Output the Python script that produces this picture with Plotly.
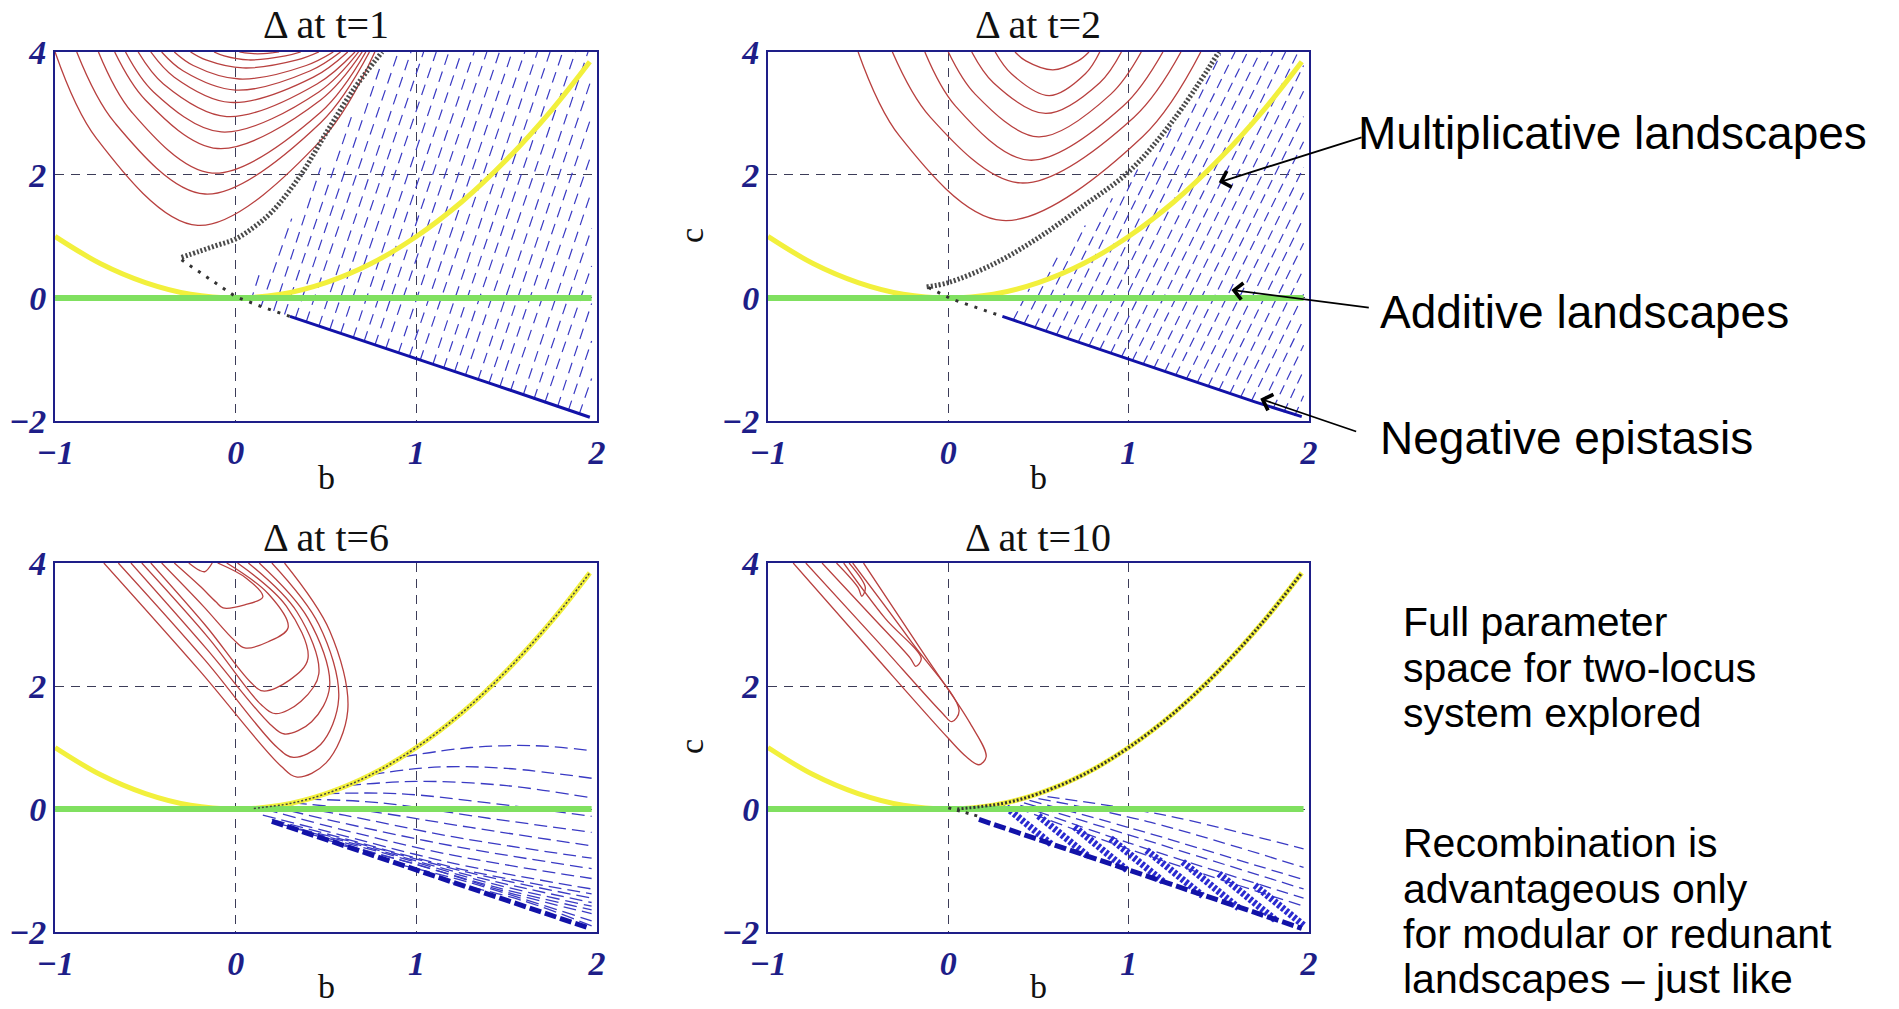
import plotly.graph_objects as go

# ---------------- data ----------------
TITLES = ["Δ at t=1", "Δ at t=2", "Δ at t=6", "Δ at t=10"]
B_TICKS = [-1, 0, 1, 2]
B_TICK_LABELS = ["−1", "0", "1", "2"]
C_TICKS = [-2, 0, 2, 4]
C_TICK_LABELS = ["−2", "0", "2", "4"]

# multiplicative landscapes (yellow) and additive landscapes (green)
YELLOW_B = [-1.0, -0.75, -0.5, -0.25, 0.0, 0.25, 0.5, 0.75, 1.0, 1.25, 1.5, 1.75, 1.96]
YELLOW_C = [1.0, 0.56, 0.25, 0.06, 0.0, 0.06, 0.25, 0.56, 1.0, 1.56, 2.25, 3.06, 3.84]
GREEN_B = [-1.0, 1.97]
GREEN_C = [0.0, 0.0]

# ---- panel 1 (t=1) ----
P1_RED_B = [
    [-1.00, -0.77, -0.21, 0.48, 0.77],
    [-0.88, -0.67, -0.17, 0.47, 0.74],
    [-0.76, -0.575, -0.13, 0.47, 0.72],
    [-0.67, -0.50, -0.10, 0.47, 0.70],
    [-0.61, -0.455, -0.08, 0.46, 0.68],
    [-0.54, -0.40, -0.05, 0.45, 0.66],
    [-0.47, -0.34, -0.03, 0.43, 0.62],
    [-0.41, -0.29, 0.00, 0.41, 0.58],
    [-0.34, -0.235, 0.02, 0.39, 0.54],
    [-0.25, -0.165, 0.04, 0.34, 0.46],
    [-0.12, -0.064, 0.07, 0.275, 0.36],
    [0.02, 0.05, 0.12, 0.20, 0.24],
]
P1_RED_C = [
    [4, 2.59, 1.18, 2.59, 4],
    [4, 2.85, 1.69, 2.85, 4],
    [4, 3.02, 2.03, 3.02, 4],
    [4, 3.22, 2.43, 3.22, 4],
    [4, 3.35, 2.70, 3.35, 4],
    [4, 3.48, 2.95, 3.48, 4],
    [4, 3.59, 3.18, 3.59, 4],
    [4, 3.69, 3.38, 3.69, 4],
    [4, 3.78, 3.56, 3.78, 4],
    [4, 3.87, 3.74, 3.87, 4],
    [4, 3.935, 3.87, 3.935, 4],
    [4, 3.985, 3.97, 3.985, 4],
]
P1_BLUE_B0 = [0.08, 0.14, 0.21, 0.27, 0.33, 0.39, 0.46, 0.52, 0.58, 0.65, 0.71, 0.77, 0.83, 0.90, 0.96,
              1.02, 1.09, 1.15, 1.21, 1.27, 1.34, 1.40, 1.46, 1.52, 1.59, 1.65, 1.71, 1.78, 1.84, 1.90]
P1_BLUE_C0 = [-0.08, -0.14, -0.21, -0.27, -0.33, -0.39, -0.46, -0.52, -0.58, -0.65, -0.71, -0.77, -0.83, -0.90, -0.96,
              -1.02, -1.09, -1.15, -1.21, -1.27, -1.34, -1.40, -1.46, -1.52, -1.59, -1.65, -1.71, -1.78, -1.84, -1.90]
P1_BLUE_B1 = [0.14, 0.31, 0.47, 0.64, 0.80, 0.90, 0.97, 1.04, 1.11, 1.18, 1.25, 1.32, 1.39, 1.46, 1.53,
              1.60, 1.67, 1.74, 1.81, 1.88, 1.95, 1.97, 1.97, 1.97, 1.97, 1.97, 1.97, 1.97, 1.97, 1.97]
P1_BLUE_C1 = [0.47, 1.29, 2.12, 2.94, 3.76, 4, 4, 4, 4, 4, 4, 4, 4, 4, 4,
              4, 4, 4, 4, 4, 4, 3.57, 2.96, 2.35, 1.74, 1.13, 0.52, -0.09, -0.70, -1.31]
P1_DOT_B = [-0.30, -0.20, -0.10, 0.00, 0.10, 0.20, 0.36, 0.50, 0.65, 0.81]
P1_DOT_C = [0.66, 0.76, 0.86, 0.96, 1.15, 1.40, 2.00, 2.68, 3.38, 4.00]
P1_SPARSE_B = [-0.30, -0.15, 0.00, 0.15, 0.30]
P1_SPARSE_C = [0.62, 0.32, 0.02, -0.15, -0.30]
P1_EDGE_B = [0.30, 0.70, 1.00, 1.40, 1.70, 1.96]
P1_EDGE_C = [-0.30, -0.69, -0.99, -1.38, -1.68, -1.94]

# ---- panel 2 (t=2) ----
P2_RED_B = [
    [-0.50, -0.27, 0.30, 1.08, 1.40],
    [-0.31, -0.10, 0.40, 1.03, 1.29],
    [-0.13, 0.04, 0.45, 0.97, 1.19],
    [0.00, 0.15, 0.50, 0.90, 1.07],
    [0.13, 0.25, 0.54, 0.84, 0.96],
    [0.26, 0.35, 0.56, 0.76, 0.84],
    [0.37, 0.43, 0.58, 0.72, 0.78],
]
P2_RED_C = [
    [4, 2.63, 1.26, 2.63, 4],
    [4, 2.94, 1.87, 2.94, 4],
    [4, 3.12, 2.24, 3.12, 4],
    [4, 3.31, 2.62, 3.31, 4],
    [4, 3.50, 3.00, 3.50, 4],
    [4, 3.645, 3.29, 3.645, 4],
    [4, 3.855, 3.71, 3.855, 4],
]
P2_BLUE_B0 = [0.36, 0.42, 0.48, 0.54, 0.60, 0.66, 0.72, 0.78, 0.84, 0.90, 0.96, 1.02, 1.08, 1.14,
              1.20, 1.26, 1.32, 1.38, 1.44, 1.50, 1.56, 1.62, 1.68, 1.74, 1.80, 1.86, 1.92]
P2_BLUE_C0 = [-0.36, -0.42, -0.48, -0.54, -0.60, -0.66, -0.72, -0.78, -0.84, -0.90, -0.96, -1.02, -1.08, -1.14,
              -1.20, -1.26, -1.32, -1.38, -1.44, -1.50, -1.56, -1.62, -1.68, -1.74, -1.80, -1.86, -1.92]
P2_BLUE_B1 = [0.45, 0.61, 0.76, 0.91, 1.05, 1.24, 1.51, 1.59, 1.66, 1.73, 1.80, 1.87, 1.94, 1.97,
              1.97, 1.97, 1.97, 1.97, 1.97, 1.97, 1.97, 1.97, 1.97, 1.97, 1.97, 1.97, 1.97]
P2_BLUE_C1 = [0.15, 0.69, 1.18, 1.62, 2.09, 2.78, 3.96, 4, 4, 4, 4, 4, 4, 3.78,
              3.36, 2.95, 2.54, 2.12, 1.71, 1.30, 0.89, 0.47, 0.06, -0.35, -0.77, -1.18, -1.59]
P2_DOT_B = [-0.12, 0.00, 0.25, 0.50, 0.75, 1.00, 1.25, 1.50]
P2_DOT_C = [0.18, 0.25, 0.55, 0.98, 1.50, 2.05, 2.90, 4.00]
P2_SPARSE_B = [-0.11, -0.05, 0.02, 0.15, 0.30]
P2_SPARSE_C = [0.17, 0.08, -0.02, -0.15, -0.30]
P2_EDGE_B = [0.30, 0.70, 1.00, 1.40, 1.70, 1.96]
P2_EDGE_C = [-0.30, -0.70, -0.99, -1.39, -1.69, -1.93]

# ---- panel 3 (t=6) ----
P3_RED_B = [
    [-0.73, -0.20, 0.25, 0.34, 0.50, 0.62, 0.52, 0.27],
    [-0.65, -0.17, 0.23, 0.32, 0.47, 0.57, 0.46, 0.20],
    [-0.58, -0.16, 0.19, 0.27, 0.42, 0.52, 0.40, 0.13],
    [-0.52, -0.15, 0.14, 0.22, 0.36, 0.46, 0.34, 0.07],
    [-0.47, -0.16, 0.08, 0.15, 0.30, 0.40, 0.28, 0.01],
    [-0.41, -0.18, -0.01, 0.05, 0.18, 0.29, 0.18, -0.05],
    [-0.34, -0.20, -0.11, -0.07, 0.05, 0.15, 0.06, -0.10],
    [-0.26, -0.20, -0.17, -0.13],
]
P3_RED_C = [
    [4, 2.25, 0.70, 0.52, 0.75, 1.60, 2.90, 4],
    [4, 2.42, 1.00, 0.84, 1.05, 1.80, 3.00, 4],
    [4, 2.60, 1.38, 1.22, 1.42, 2.00, 3.10, 4],
    [4, 2.78, 1.70, 1.55, 1.75, 2.20, 3.20, 4],
    [4, 2.96, 2.07, 1.92, 2.10, 2.45, 3.30, 4],
    [4, 3.30, 2.75, 2.62, 2.72, 2.95, 3.50, 4],
    [4, 3.63, 3.37, 3.27, 3.32, 3.45, 3.75, 4],
    [4, 3.88, 3.86, 4],
]
P3_BLUE_B = [
    [0.93, 1.30, 1.65, 1.97],
    [0.75, 1.10, 1.50, 1.97],
    [0.62, 1.00, 1.50, 1.97],
    [0.50, 0.90, 1.40, 1.97],
    [0.40, 0.80, 1.40, 1.97],
    [0.32, 0.70, 1.30, 1.97],
    [0.26, 0.60, 1.20, 1.97],
    [0.20, 0.55, 1.20, 1.97],
    [0.16, 0.50, 1.20, 1.97],
    [0.15, 0.50, 1.20, 1.97],
    [0.20, 0.55, 1.25, 1.97],
    [0.25, 0.60, 1.30, 1.97],
    [0.32, 0.70, 1.35, 1.97],
    [0.40, 0.80, 1.40, 1.97],
    [0.50, 0.90, 1.45, 1.97],
    [0.60, 1.00, 1.50, 1.97],
    [0.90, 1.30, 1.97],
    [1.20, 1.60, 1.97],
]
P3_BLUE_C = [
    [0.85, 1.00, 1.03, 0.95],
    [0.56, 0.68, 0.66, 0.50],
    [0.38, 0.45, 0.38, 0.18],
    [0.25, 0.25, 0.10, -0.12],
    [0.16, 0.10, -0.15, -0.38],
    [0.10, -0.02, -0.30, -0.60],
    [0.07, -0.10, -0.45, -0.80],
    [0.04, -0.20, -0.60, -0.97],
    [0.00, -0.27, -0.75, -1.13],
    [-0.10, -0.36, -0.88, -1.30],
    [-0.17, -0.44, -0.98, -1.38],
    [-0.25, -0.50, -1.04, -1.45],
    [-0.31, -0.60, -1.12, -1.52],
    [-0.40, -0.70, -1.20, -1.58],
    [-0.50, -0.82, -1.28, -1.64],
    [-0.60, -0.90, -1.35, -1.70],
    [-0.90, -1.20, -1.82],
    [-1.20, -1.50, -1.90],
]
P3_DOT_B = [0.10, 0.30, 0.50, 0.75, 1.00, 1.25, 1.50, 1.75, 1.96]
P3_DOT_C = [0.01, 0.09, 0.25, 0.56, 1.00, 1.56, 2.25, 3.06, 3.84]
P3_EDGE_B = [0.20, 0.60, 1.00, 1.40, 1.96]
P3_EDGE_C = [-0.20, -0.60, -0.99, -1.39, -1.94]

# ---- panel 4 (t=10) ----
P4_RED_B = [
    [-0.86, -0.41, 0.00, 0.10, 0.17, 0.21, 0.12, -0.13, -0.47],
    [-0.79, -0.40, -0.03, 0.02, 0.06, -0.20, -0.53],
    [-0.70, -0.43, -0.21, -0.18, -0.15, -0.35, -0.58],
    [-0.62, -0.50, -0.48, -0.46, -0.55],
]
P4_RED_C = [
    [4, 2.50, 1.15, 0.85, 0.72, 0.85, 1.40, 2.50, 4],
    [4, 2.75, 1.55, 1.42, 1.60, 2.70, 4],
    [4, 3.15, 2.45, 2.32, 2.45, 3.10, 4],
    [4, 3.60, 3.46, 3.60, 4],
]
P4_FAN_B = [[0.55, 1.20, 1.97], [0.50, 1.10, 1.97], [0.45, 1.00, 1.97],
            [0.42, 1.00, 1.97], [0.40, 1.00, 1.97], [0.38, 1.00, 1.97]]
P4_FAN_C = [[0.20, -0.10, -0.65], [0.17, -0.20, -0.95], [0.14, -0.30, -1.15],
            [0.10, -0.42, -1.30], [0.06, -0.55, -1.45], [0.02, -0.65, -1.58]]
P4_BAND_B0 = [0.30, 0.50, 0.70, 0.90, 1.10, 1.30, 1.50, 1.70]
P4_BAND_C0 = [0.08, -0.11, -0.29, -0.48, -0.67, -0.86, -1.05, -1.24]
P4_BAND_B1 = [0.57, 0.78, 0.99, 1.20, 1.41, 1.61, 1.82, 1.97]
P4_BAND_C1 = [-0.57, -0.78, -0.99, -1.20, -1.41, -1.61, -1.82, -1.89]
P4_DOT_B = [0.05, 0.30, 0.50, 0.75, 1.00, 1.25, 1.50, 1.75, 1.96]
P4_DOT_C = [0.00, 0.09, 0.25, 0.56, 1.00, 1.56, 2.25, 3.06, 3.84]
P4_SPARSE_B = [0.00, 0.08, 0.17]
P4_SPARSE_C = [0.02, -0.04, -0.12]
P4_EDGE_B = [0.17, 0.60, 1.00, 1.40, 1.96]
P4_EDGE_C = [-0.17, -0.60, -0.99, -1.39, -1.94]

# side text
SIDE_LABELS = ["Multiplicative landscapes", "Additive landscapes", "Negative epistasis"]
PARA1 = ["Full parameter", "space for two-locus", "system explored"]
PARA2 = ["Recombination is", "advantageous only", "for modular or redunant", "landscapes – just like"]
# arrows in panel 2 data units: tip (b, c) and tail (b, c)
ARROW_TIP_B = [1.50, 1.57, 1.73]
ARROW_TIP_C = [1.88, 0.13, -1.64]
ARROW_TAIL_B = [2.30, 2.34, 2.27]
ARROW_TAIL_C = [2.62, -0.16, -2.18]

# ---------------- styling ----------------
RED = "#b8403f"
BLUE = "#3a3ac4"
DARKBLUE = "#1212a8"
YELLOW = "#f2f03c"
GREEN = "#80e060"
NAVY = "#1e1e88"
SERIF = "Liberation Serif"
SANS = "Liberation Sans"
W, H = 1899, 1009

XD = [[0.0290, 0.3144], [0.4044, 0.6893], [0.0290, 0.3144], [0.4044, 0.6893]]
YD = [[0.5828, 0.9485], [0.5828, 0.9485], [0.0763, 0.4420], [0.0763, 0.4420]]


def join(b_lists, c_lists):
    xs, ys = [], []
    for bl, cl in zip(b_lists, c_lists):
        xs += list(bl) + [None]
        ys += list(cl) + [None]
    return xs, ys


def join_segments(b0, c0, b1, c1):
    xs, ys = [], []
    for p, q, r, s in zip(b0, c0, b1, c1):
        xs += [p, r, None]
        ys += [q, s, None]
    return xs, ys


fig = go.Figure()


def add(i, xs, ys, color, width, dash="solid", shape="linear"):
    ax = "" if i == 1 else str(i)
    fig.add_trace(go.Scatter(
        x=xs, y=ys, mode="lines", xaxis="x" + ax, yaxis="y" + ax,
        line=dict(color=color, width=width, dash=dash, shape=shape),
        connectgaps=False, showlegend=False, hoverinfo="skip"))


# panel 1
add(1, *join_segments(P1_BLUE_B0, P1_BLUE_C0, P1_BLUE_B1, P1_BLUE_C1), BLUE, 1.2, "11px,7px")
add(1, *join(P1_RED_B, P1_RED_C), RED, 1.3, shape="spline")
add(1, YELLOW_B, YELLOW_C, YELLOW, 5, shape="spline")
add(1, GREEN_B, GREEN_C, GREEN, 6)
add(1, P1_DOT_B, P1_DOT_C, "#4a4a4a", 5, "2px,2px", "spline")
add(1, P1_SPARSE_B, P1_SPARSE_C, "#333333", 3, "3px,7px")
add(1, P1_EDGE_B, P1_EDGE_C, DARKBLUE, 3)

# panel 2
add(2, *join_segments(P2_BLUE_B0, P2_BLUE_C0, P2_BLUE_B1, P2_BLUE_C1), BLUE, 1.2, "10px,6px")
add(2, *join(P2_RED_B, P2_RED_C), RED, 1.3, shape="spline")
add(2, YELLOW_B, YELLOW_C, YELLOW, 5, shape="spline")
add(2, GREEN_B, GREEN_C, GREEN, 6)
add(2, P2_DOT_B, P2_DOT_C, "#4a4a4a", 5, "2px,2px", "spline")
add(2, P2_SPARSE_B, P2_SPARSE_C, "#333333", 3, "3px,7px")
add(2, P2_EDGE_B, P2_EDGE_C, DARKBLUE, 3)

# panel 3
add(3, *join(P3_BLUE_B, P3_BLUE_C), BLUE, 1.3, "13px,6px", "spline")
add(3, *join(P3_RED_B, P3_RED_C), RED, 1.3, shape="spline")
add(3, YELLOW_B, YELLOW_C, YELLOW, 5, shape="spline")
add(3, GREEN_B, GREEN_C, GREEN, 6)
add(3, P3_DOT_B, P3_DOT_C, "#444444", 1.5, "2px,2px", "spline")
add(3, P3_EDGE_B, P3_EDGE_C, DARKBLUE, 5, "12px,4px")

# panel 4
add(4, *join(P4_FAN_B, P4_FAN_C), BLUE, 1.3, "12px,6px", "spline")
add(4, *join_segments(P4_BAND_B0, P4_BAND_C0, P4_BAND_B1, P4_BAND_C1), "#2a2ad0", 7, "3px,2px")
add(4, *join(P4_RED_B, P4_RED_C), RED, 1.3, shape="spline")
add(4, YELLOW_B, YELLOW_C, YELLOW, 5, shape="spline")
add(4, GREEN_B, GREEN_C, GREEN, 6)
add(4, P4_DOT_B, P4_DOT_C, "#333333", 3, "2px,2px", "spline")
add(4, P4_SPARSE_B, P4_SPARSE_C, "#333333", 3, "3px,6px")
add(4, P4_EDGE_B, P4_EDGE_C, DARKBLUE, 5, "12px,4px")

tickfont = dict(family=SERIF, size=34, color=NAVY, style="italic", weight="bold")
layout = dict(
    width=W, height=H, autosize=False,
    margin=dict(l=0, r=0, t=0, b=0, autoexpand=False),
    paper_bgcolor="white", plot_bgcolor="white",
    hovermode=False, showlegend=False,
)
for i in range(1, 5):
    ax = "" if i == 1 else str(i)
    common = dict(showgrid=True, gridcolor="#3c3c58", griddash="9px,7px", gridwidth=1,
                  zeroline=False, showline=True, mirror=True, linecolor=NAVY, linewidth=2,
                  ticks="", fixedrange=True, automargin=False, tickfont=tickfont)
    layout["xaxis" + ax] = dict(domain=XD[i - 1], anchor="y" + ax, range=[-1, 2],
                                tickvals=B_TICKS, ticktext=B_TICK_LABELS, **common)
    layout["yaxis" + ax] = dict(domain=YD[i - 1], anchor="x" + ax, range=[-2, 4],
                                tickvals=C_TICKS, ticktext=C_TICK_LABELS, **common)
fig.update_layout(**layout)


def px_x(px):
    return px / W


def px_y(py):
    return 1 - py / H


def label(text, px, py, font, xanchor="center", angle=0):
    return dict(text=text, x=px_x(px), y=px_y(py), xref="paper", yref="paper",
                xanchor=xanchor, yanchor="middle", textangle=angle,
                showarrow=False, font=font)


ann = []
title_py = [24, 24, 537, 537]
blabel_py = [478, 478, 986, 986]
serif_font = dict(family=SERIF, size=40, color="#111111")
b_font = dict(family=SERIF, size=34, color="#111111")
for i in range(4):
    xc = (XD[i][0] + XD[i][1]) / 2 * W
    ann.append(label(TITLES[i], xc, title_py[i], serif_font))
    ann.append(label("b", xc, blabel_py[i], b_font))
for py in [236, 747]:
    ann.append(label("c", 691, py, b_font, angle=-90))

side_font = dict(family=SANS, size=46, color="black")
para_font = dict(family=SANS, size=41, color="black")
side_px = [1356, 1378, 1378]
side_py = [133, 312, 438]
for t, xx, yy in zip(SIDE_LABELS, side_px, side_py):
    ann.append(label(t, xx, yy, side_font, xanchor="left"))
para_py = [622, 668, 713, 843, 889, 934, 979]
for t, yy in zip(PARA1 + PARA2, para_py):
    ann.append(label(t, 1401, yy, para_font, xanchor="left"))
for tb, tc, sb, sc in zip(ARROW_TIP_B, ARROW_TIP_C, ARROW_TAIL_B, ARROW_TAIL_C):
    ann.append(dict(text="", x=tb, y=tc, xref="x2", yref="y2", ax=sb, ay=sc,
                    axref="x2", ayref="y2", showarrow=True, arrowhead=4,
                    arrowsize=1.8, arrowwidth=1.8, arrowcolor="black", standoff=0))
fig.update_layout(annotations=ann)

fig.write_html("out.html", config={"displayModeBar": False, "staticPlot": True},
               post_script="document.body.style.margin='0';document.body.style.overflow='hidden';")
